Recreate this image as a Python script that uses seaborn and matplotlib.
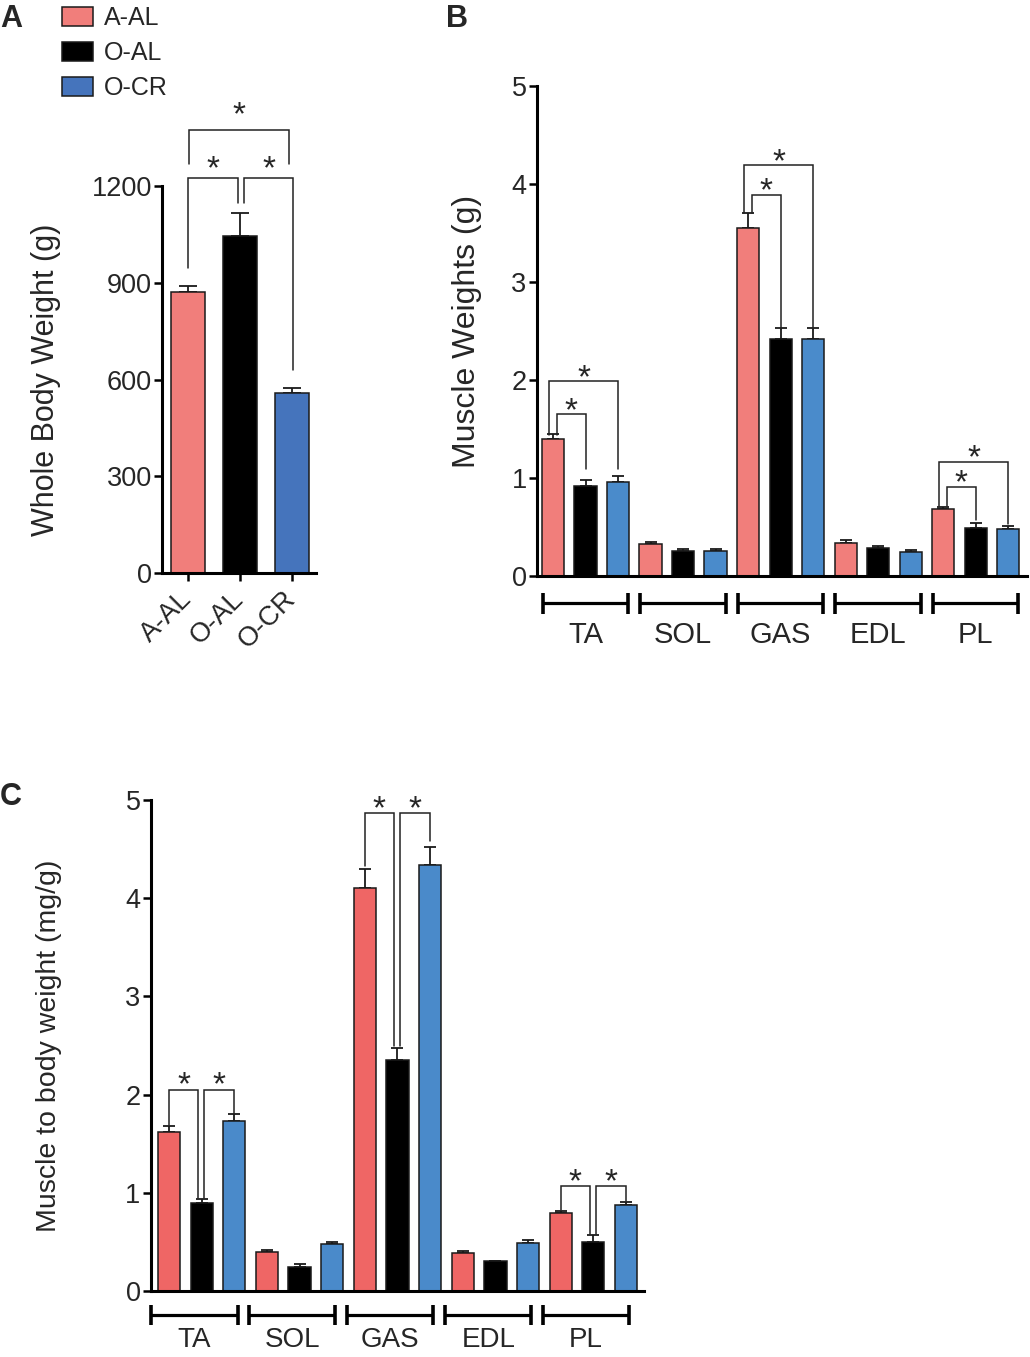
import numpy as np
import pandas as pd
import matplotlib
matplotlib.use("Agg")
import matplotlib.pyplot as plt
import matplotlib.transforms as mtransforms
import seaborn as sns

# ── Data ──────────────────────────────────────────────────────────────────────
GROUPS = ["A-AL", "O-AL", "O-CR"]
BODY_MEAN = [872, 1045, 558]
BODY_SEM = [19, 70, 15]

MUSCLES = ["TA", "SOL", "GAS", "EDL", "PL"]

WT_AAL = [1.40, 0.33, 3.55, 0.34, 0.68]
WT_AAL_SEM = [0.05, 0.02, 0.15, 0.03, 0.02]
WT_OAL = [0.92, 0.26, 2.42, 0.29, 0.49]
WT_OAL_SEM = [0.06, 0.02, 0.11, 0.02, 0.05]
WT_OCR = [0.96, 0.26, 2.42, 0.25, 0.48]
WT_OCR_SEM = [0.06, 0.02, 0.11, 0.02, 0.03]

RATIO_AAL = [1.62, 0.40, 4.10, 0.39, 0.79]
RATIO_AAL_SEM = [0.065, 0.02, 0.20, 0.015, 0.03]
RATIO_OAL = [0.90, 0.25, 2.35, 0.31, 0.50]
RATIO_OAL_SEM = [0.04, 0.03, 0.13, 0.0, 0.07]
RATIO_OCR = [1.73, 0.48, 4.34, 0.49, 0.88]
RATIO_OCR_SEM = [0.07, 0.02, 0.18, 0.03, 0.03]

# ── Style ─────────────────────────────────────────────────────────────────────
PAL_A = {"A-AL": "#F17E7B", "O-AL": "#000000", "O-CR": "#4574BC"}
PAL_B = {"A-AL": "#F17E7B", "O-AL": "#000000", "O-CR": "#4A8BCB"}
PAL_C = {"A-AL": "#EF6665", "O-AL": "#000000", "O-CR": "#4A8ACA"}
EDGE = "#1a1a1a"
BRK = "#222222"
SPINE_W = 2.2
TICK_FS = 19.5
STAR_FS = 24

sns.set_style("ticks")
plt.rcParams["font.family"] = ["Liberation Sans", "DejaVu Sans"]


def long_frame(means, sems):
    rows = []
    for g, m, s in zip(GROUPS, means, sems):
        for mu, v, e in zip(MUSCLES, m, s):
            rows.append({"muscle": mu, "group": g, "value": v, "sem": e})
    return pd.DataFrame(rows)


def style_axes(ax):
    sns.despine(ax=ax)
    for side in ("left", "bottom"):
        ax.spines[side].set_linewidth(SPINE_W)
        ax.spines[side].set_color("black")
    ax.tick_params(axis="y", length=6, width=1.8, labelsize=TICK_FS, pad=1.5,
                   color="black")
    ax.set_xlabel("")


def bracket(ax, x1, x2, y, b1, b2, star_dy):
    ax.plot([x1, x1, x2, x2], [b1, y, y, b2], color=BRK, lw=1.1,
            clip_on=False, solid_joinstyle="miter")
    ax.annotate("*", xy=((x1 + x2) / 2, y), xytext=(0, star_dy),
                textcoords="offset points", ha="center", va="baseline",
                fontsize=STAR_FS, annotation_clip=False)


def muscle_panel(ax, df, pal):
    sns.barplot(data=df, x="muscle", y="value", hue="group", order=MUSCLES,
                hue_order=GROUPS, palette=pal, saturation=1, width=1.0,
                gap=0.32, errorbar=None, edgecolor=EDGE, linewidth=1.1,
                legend=False, ax=ax, zorder=2)
    centers = {}
    for p in ax.patches:
        xc = p.get_x() + p.get_width() / 2
        i = int(round(xc))
        h = int(round((xc - i) * 3)) + 1
        centers[(MUSCLES[i], GROUPS[h])] = xc
    xs = [centers[(r.muscle, r.group)] for r in df.itertuples()]
    ax.errorbar(xs, df["value"], yerr=[np.zeros(len(df)), df["sem"]],
                fmt="none", ecolor=EDGE, elinewidth=1.3, capsize=4,
                capthick=1.3, zorder=1)
    style_axes(ax)
    ax.tick_params(axis="x", length=0, labelbottom=False)
    ax.set_ylim(0, 5)
    ax.set_yticks(range(6))
    return centers


def group_axis(ax, shift, hw, y_line, y_text, fs):
    trans = mtransforms.blended_transform_factory(ax.transData, ax.transAxes)
    for i, mu in enumerate(MUSCLES):
        c = i + shift
        ax.plot([c - hw, c + hw], [y_line, y_line], transform=trans,
                color="black", lw=2.3, clip_on=False, solid_capstyle="butt")
        for xe in (c - hw, c + hw):
            ax.plot([xe, xe], [y_line - 0.021, y_line + 0.021],
                    transform=trans, color="black", lw=2.6, clip_on=False,
                    solid_capstyle="butt")
        ax.text(c, y_text, mu, transform=trans, ha="center", va="top",
                fontsize=fs)


fig = plt.figure(figsize=(10.3, 13.57), dpi=100)

# ── A: whole body weight ─────────────────────────────────────────────────────
df_a = pd.DataFrame({"group": GROUPS, "value": BODY_MEAN, "sem": BODY_SEM})
ax_a = fig.add_axes([0.1575, 0.5777, 0.1495, 0.2852])
sns.barplot(data=df_a, x="group", y="value", hue="group", order=GROUPS,
            hue_order=GROUPS, palette=PAL_A, saturation=1, width=0.66,
            errorbar=None, edgecolor=EDGE, linewidth=1.1, legend=True,
            ax=ax_a, zorder=2)
xa = {GROUPS[int(round(p.get_x() + p.get_width() / 2))]:
      p.get_x() + p.get_width() / 2 for p in ax_a.patches}
ax_a.errorbar([xa[g] for g in GROUPS], BODY_MEAN,
              yerr=[np.zeros(3), BODY_SEM], fmt="none", ecolor=EDGE,
              elinewidth=1.3, capsize=6.5, capthick=1.3, zorder=1)
style_axes(ax_a)
ax_a.set_ylim(0, 1200)
ax_a.set_yticks([0, 300, 600, 900, 1200])
ax_a.set_xlim(-0.49, 2.47)
ax_a.tick_params(axis="x", length=6, width=1.8, labelsize=TICK_FS, pad=10,
                 color="black", labelrotation=45)
for lab in ax_a.get_xticklabels():
    lab.set_ha("right")
    lab.set_va("center")
    lab.set_rotation_mode("anchor")
ax_a.set_ylabel("Whole Body Weight (g)", fontsize=22)
ax_a.yaxis.set_label_coords(-0.66, 0.5)

if ax_a.get_legend() is None:
    ax_a.legend()
sns.move_legend(ax_a, "upper left", bbox_to_anchor=(62 / 1030, 1 - 6 / 1357),
                bbox_transform=fig.transFigure, frameon=False, title=None,
                fontsize=18, handlelength=1.25, handleheight=0.76,
                labelspacing=0.44, handletextpad=0.42, borderpad=0,
                borderaxespad=0)
for h in ax_a.get_legend().legend_handles:
    h.set_edgecolor(EDGE)
    h.set_linewidth(1.1)

bracket(ax_a, xa["A-AL"], xa["O-AL"] - 0.04, 1224, 947, 1146, 0.0)
bracket(ax_a, xa["O-AL"] + 0.09, xa["O-CR"] + 0.03, 1224, 1146, 629, 0.0)
bracket(ax_a, xa["A-AL"] + 0.03, xa["O-CR"] - 0.045, 1374, 1268, 1268, 4.0)

# ── B: muscle weights ────────────────────────────────────────────────────────
df_b = long_frame([WT_AAL, WT_OAL, WT_OCR], [WT_AAL_SEM, WT_OAL_SEM, WT_OCR_SEM])
ax_b = fig.add_axes([0.5214, 0.5755, 0.4757, 0.3611])
cb = muscle_panel(ax_b, df_b, PAL_B)
ax_b.set_xlim(-0.497, 4.527)
ax_b.set_ylabel("Muscle Weights (g)", fontsize=23)
ax_b.yaxis.set_label_coords(-0.112, 0.5)
group_axis(ax_b, 0.0, 0.437, -0.056, -0.092, 21)

for mu, y1, y2, lo, r1, r2 in [("TA", 1.65, 1.99, 1.44, 1.09, 1.09),
                               ("GAS", 3.89, 4.19, 3.70, 2.52, 2.52),
                               ("PL", 0.91, 1.166, 0.71, 0.57, 0.53)]:
    bracket(ax_b, cb[(mu, "A-AL")] + 0.036, cb[(mu, "O-AL")], y1, lo, r1, -4.2)
    bracket(ax_b, cb[(mu, "A-AL")] - 0.04, cb[(mu, "O-CR")], y2, lo, r2, -4.2)

# ── C: muscle to body weight ─────────────────────────────────────────────────
df_c = long_frame([RATIO_AAL, RATIO_OAL, RATIO_OCR],
                  [RATIO_AAL_SEM, RATIO_OAL_SEM, RATIO_OCR_SEM])
ax_c = fig.add_axes([0.1466, 0.0486, 0.4786, 0.3618])
cc = muscle_panel(ax_c, df_c, PAL_C)
ax_c.set_xlim(-0.517, 4.517)
ax_c.set_ylabel("Muscle to body weight (mg/g)", fontsize=20.5)
ax_c.yaxis.set_label_coords(-0.18, 0.5)
group_axis(ax_c, -0.073, 0.44, -0.049, -0.073, 20)

for mu, y, lo, mid, hi in [("TA", 2.05, 1.69, 0.95, 1.80),
                           ("GAS", 4.87, 4.33, 2.50, 4.58),
                           ("PL", 1.07, 0.83, 0.58, 0.92)]:
    bracket(ax_c, cc[(mu, "A-AL")], cc[(mu, "O-AL")] - 0.035, y, lo, mid, -3.6)
    bracket(ax_c, cc[(mu, "O-AL")] + 0.025, cc[(mu, "O-CR")], y, mid, hi, -3.6)

# ── Panel letters ─────────────────────────────────────────────────────────────
for letter, x, y in [("A", 0 / 1030, 1 - 4 / 1357), ("B", 446 / 1030, 1 - 4 / 1357),
                     ("C", 0 / 1030, 1 - 782 / 1357)]:
    fig.text(x, y, letter, fontsize=22, fontweight="heavy", ha="left", va="top")

fig.savefig("out.png", dpi=100, facecolor="white")
